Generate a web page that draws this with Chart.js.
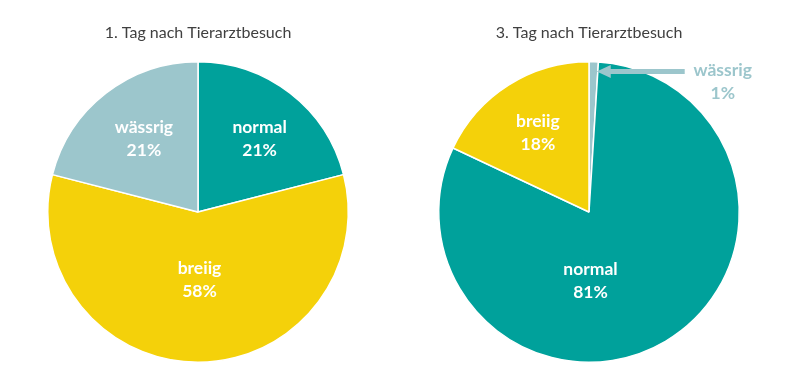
<!DOCTYPE html>
<html>
<head>
<meta charset="utf-8">
<script src="https://cdn.jsdelivr.net/npm/chart.js@4"></script>
<style>
  body { margin: 0; background: #fff; }
  .pie { position: absolute; top: 0; width: 396px; height: 387px; }
  #left { left: 0; }
  #right { left: 391px; }
</style>
</head>
<body>
<div class="pie" id="left"><canvas id="chartDay1"></canvas></div>
<div class="pie" id="right"><canvas id="chartDay3"></canvas></div>
<script>
'use strict';

const titles = ['1. Tag nach Tierarztbesuch', '3. Tag nach Tierarztbesuch'];
const day1Labels = ['normal', 'breiig', 'wässrig'];
const day1Values = [21, 58, 21];
const day3Labels = ['wässrig', 'normal', 'breiig'];
const day3Values = [1, 81, 18];

const COLORS = {
    normal: '#00A19B',
    breiig: '#F4D10A',
    'wässrig': '#9CC6CC'
};

// label anchor relative to pie center, as a fraction of the outer radius
const labelSpots = {
    chartDay1: [ { dx: 0.41, dy: -0.49 }, { dx: 0.01, dy: 0.45 }, { dx: -0.36, dy: -0.49 } ],
    chartDay3: [ { dx: 0.89, dy: -0.865, outside: true }, { dx: 0.01, dy: 0.46 }, { dx: -0.34, dy: -0.53 } ]
};

const sliceLabels = {
    id: 'sliceLabels',
    afterDatasetsDraw(chart) {
        const ctx = chart.ctx;
        const meta = chart.getDatasetMeta(0);
        const spots = labelSpots[chart.canvas.id];
        const labels = chart.data.labels;
        const values = chart.data.datasets[0].data;

        ctx.save();
        ctx.font = 'bold 17.5px Lato';
        ctx.textAlign = 'center';
        ctx.textBaseline = 'middle';

        meta.data.forEach(function(arc, i) {
            const spot = spots[i];
            const r = arc.outerRadius;
            const x = arc.x + spot.dx * r;
            const y = arc.y + spot.dy * r;

            if (spot.outside) {
                // arrow pointing at the thin slice
                const mid = (arc.startAngle + arc.endAngle) / 2;
                const tipX = arc.x + Math.cos(mid) * r + 3;
                const tipY = y - 10.5;
                ctx.strokeStyle = COLORS[labels[i]];
                ctx.fillStyle = COLORS[labels[i]];
                ctx.lineWidth = 5;
                ctx.beginPath();
                ctx.moveTo(x - 38, tipY);
                ctx.lineTo(tipX + 10, tipY);
                ctx.stroke();
                ctx.beginPath();
                ctx.moveTo(tipX, tipY);
                ctx.lineTo(tipX + 14, tipY - 6.5);
                ctx.lineTo(tipX + 14, tipY + 6.5);
                ctx.closePath();
                ctx.fill();
            } else {
                ctx.fillStyle = '#FFFFFF';
            }
            ctx.fillText(labels[i], x, y - 11.5);
            ctx.fillText(values[i] + '%', x, y + 11.5);
        });
        ctx.restore();
    }
};

function makePie(canvasId, title, labels, values) {
    const data = {
        labels: labels,
        datasets: [
            {
                data: values,
                backgroundColor: labels.map(l => COLORS[l]),
                borderColor: '#FFFFFF',
                borderWidth: 1.5
            }
        ]
    };
    const config = {
        type: 'pie',
        data,
        options: {
            responsive: true,
            maintainAspectRatio: false,
            animation: false,
            layout: { padding: { bottom: 24 } },
            plugins: {
                legend: { display: false },
                tooltip: { enabled: false },
                title: {
                    display: true,
                    text: title,
                    color: '#404040',
                    font: { family: 'Lato', size: 16, weight: 'normal', lineHeight: 1.2 },
                    padding: { top: 23.5, bottom: 18.3 }
                }
            }
        },
        plugins: [sliceLabels]
    };
    return new Chart(document.getElementById(canvasId), config);
}

makePie('chartDay1', titles[0], day1Labels, day1Values);
makePie('chartDay3', titles[1], day3Labels, day3Values);
</script>
</body>
</html>
